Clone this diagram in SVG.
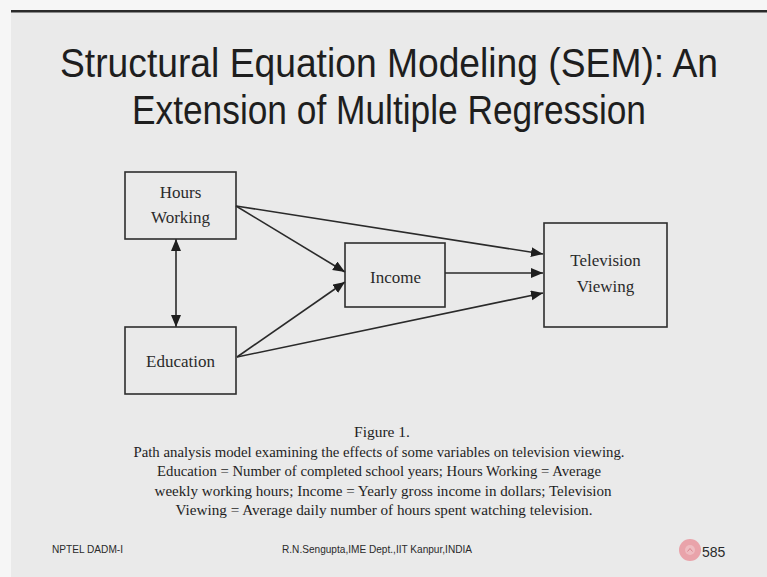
<svg xmlns="http://www.w3.org/2000/svg" width="767" height="577" viewBox="0 0 767 577">
  <style>
    .title { font-family: "Liberation Sans", Arial, sans-serif; font-size: 40px; fill: #1e1e1e; text-anchor: middle; }
    .box { fill: none; stroke: #2e2e2e; stroke-width: 1.6; }
    .lbl { font-family: "Liberation Serif", "Times New Roman", serif; font-size: 17px; fill: #2a2a2a; text-anchor: middle; }
    .cap { font-family: "Liberation Serif", "Times New Roman", serif; font-size: 15.5px; fill: #1e1e1e; text-anchor: middle; }
    .foot { font-family: "Liberation Sans", Arial, sans-serif; font-size: 10.5px; fill: #2a2a2a; }
    .edge { fill: none; stroke: #2a2a2a; stroke-width: 1.6; }
  </style>
  <defs>
    <marker id="ah" markerUnits="userSpaceOnUse" markerWidth="14" markerHeight="12" refX="12" refY="5" orient="auto-start-reverse">
      <path d="M0,0 L12,5 L0,10 Z" fill="#1e1e1e"/>
    </marker>
  </defs>

  <!-- slide background -->
  <rect x="0" y="0" width="767" height="577" fill="#f6f6f6"/>
  <rect x="11" y="11" width="756" height="566" fill="#eaeaea"/>
  <rect x="11" y="10" width="756" height="2.5" fill="#2a2a2a"/>

  <!-- title -->
  <text class="title" x="389" y="77" textLength="658" lengthAdjust="spacingAndGlyphs">Structural Equation Modeling (SEM): An</text>
  <text class="title" x="389" y="124" textLength="514" lengthAdjust="spacingAndGlyphs">Extension of Multiple Regression</text>

  <!-- connectors -->
  <g id="connectors">
    <path class="edge" d="M236,206 L543,254" marker-end="url(#ah)"/>
    <path class="edge" d="M236,206 L345,272" marker-end="url(#ah)"/>
    <path class="edge" d="M237,357 L345,282" marker-end="url(#ah)"/>
    <path class="edge" d="M237,357 L543,293" marker-end="url(#ah)"/>
    <path class="edge" d="M445,273 L543,273" marker-end="url(#ah)"/>
    <path class="edge" d="M176,239 L176,327" marker-start="url(#ah)" marker-end="url(#ah)"/>
  </g>

  <!-- nodes -->
  <g id="hours-working">
    <rect class="box" x="125" y="172" width="111" height="67"/>
    <text class="lbl" x="180.5" y="198">Hours</text>
    <text class="lbl" x="180.5" y="223">Working</text>
  </g>
  <g id="education">
    <rect class="box" x="125" y="327" width="111" height="67"/>
    <text class="lbl" x="180.5" y="367">Education</text>
  </g>
  <g id="income">
    <rect class="box" x="345" y="243" width="100" height="64"/>
    <text class="lbl" x="395.5" y="283">Income</text>
  </g>
  <g id="television-viewing">
    <rect class="box" x="544" y="223" width="123" height="104"/>
    <text class="lbl" x="605.5" y="266">Television</text>
    <text class="lbl" x="605.5" y="292">Viewing</text>
  </g>

  <!-- figure caption -->
  <text class="cap" x="382" y="437">Figure 1.</text>
  <text class="cap" x="379" y="457" textLength="491" lengthAdjust="spacingAndGlyphs">Path analysis model examining the effects of some variables on television viewing.</text>
  <text class="cap" x="379" y="476" textLength="444" lengthAdjust="spacingAndGlyphs">Education = Number of completed school years; Hours Working = Average</text>
  <text class="cap" x="383" y="496" textLength="457" lengthAdjust="spacingAndGlyphs">weekly working hours; Income = Yearly gross income in dollars; Television</text>
  <text class="cap" x="384" y="515" textLength="417" lengthAdjust="spacingAndGlyphs">Viewing = Average daily number of hours spent watching television.</text>

  <!-- footer -->
  <text class="foot" x="52" y="553" textLength="71" lengthAdjust="spacingAndGlyphs">NPTEL DADM-I</text>
  <text class="foot" x="282" y="553" textLength="190" lengthAdjust="spacingAndGlyphs">R.N.Sengupta,IME Dept.,IIT Kanpur,INDIA</text>
  <g id="page-badge">
    <circle cx="690" cy="550" r="11" fill="#e9a3aa"/>
    <circle cx="690" cy="550" r="5" fill="#efbcc1"/>
    <path d="M687.5,551.5 L690,548.5 L692.5,551.5" fill="none" stroke="#d9848d" stroke-width="1"/>
    <text x="702" y="557" font-family="'Liberation Sans', Arial, sans-serif" font-size="14" fill="#2a2a2a">585</text>
  </g>
</svg>
